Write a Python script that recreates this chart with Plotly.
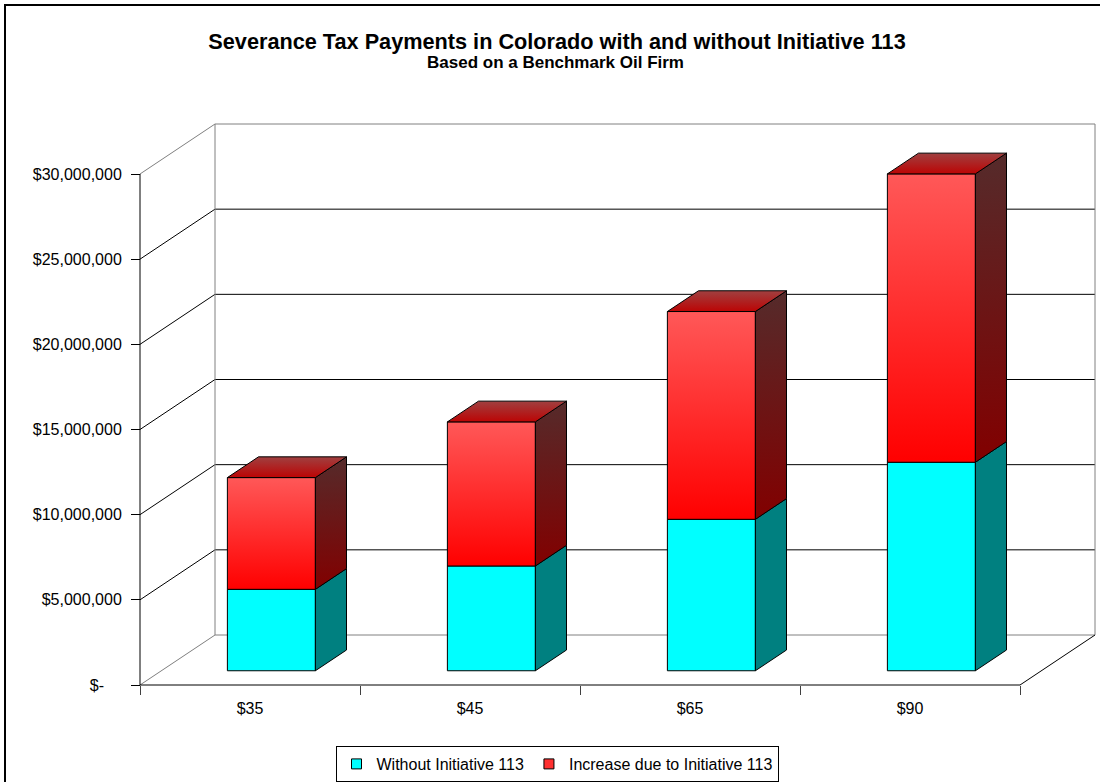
import plotly.graph_objects as go

# ---- data -------------------------------------------------------------
categories = ["$35", "$45", "$65", "$90"]
without_113 = [4.78e6, 6.15e6, 8.89e6, 12.24e6]
increase_113 = [6.56e6, 8.46e6, 12.20e6, 16.93e6]
series_names = ["Without Initiative 113", "Increase due to Initiative 113"]
tick_values = [0, 5e6, 10e6, 15e6, 20e6, 25e6, 30e6]
tick_labels = ["$-\u00a0\u00a0\u00a0\u00a0", "$5,000,000", "$10,000,000", "$15,000,000",
               "$20,000,000", "$25,000,000", "$30,000,000"]
title_text = "Severance Tax Payments in Colorado with and without Initiative 113"
subtitle_text = "Based on a Benchmark Oil Firm"

# ---- geometry of the oblique 3-D projection ---------------------------
FONT = "Liberation Sans, Arial, sans-serif"
W, H = 1100, 782
CAT_PX = 220            # pixel width of one category slot
CX0 = 250               # pixel x of the first category centre
Y0_PX = 685             # pixel y of zero on the front plane
PX_PER_DOLLAR = 511 / 30e6
DEPTH_PX = (75, 50)     # offset of the back wall from the front plane

DX = DEPTH_PX[0] / CAT_PX
DY = DEPTH_PX[1] / PX_PER_DOLLAR
x_range = [-CX0 / CAT_PX, (W - CX0) / CAT_PX]
y_range = [(Y0_PX - H) / PX_PER_DOLLAR, Y0_PX / PX_PER_DOLLAR]

BAR_HALF = 0.2          # half bar width in category units
FRONT, BACK = 0.285, 0.70   # bar depth span as a fraction of the floor depth

x_lo, x_hi = -0.5, len(categories) - 0.5
top = tick_values[-1]

fig = go.Figure()


def seg_trace(segs, color, width=1):
    xs, ys = [], []
    for (xa, ya), (xb, yb) in segs:
        xs += [xa, xb, None]
        ys += [ya, yb, None]
    return go.Scatter(x=xs, y=ys, mode="lines", line=dict(color=color, width=width),
                      hoverinfo="skip", showlegend=False)


# walls: gridlines on the side and back walls
grid = []
for v in tick_values[1:-1]:
    grid.append(((x_lo, v), (x_lo + DX, v + DY)))
    grid.append(((x_lo + DX, v + DY), (x_hi + DX, v + DY)))
fig.add_trace(seg_trace(grid, "black"))

# wall frame
frame = [
    ((x_lo + DX, DY), (x_hi + DX, DY)),
    ((x_hi + DX, DY), (x_hi + DX, top + DY)),
    ((x_hi + DX, top + DY), (x_lo + DX, top + DY)),
    ((x_lo + DX, top + DY), (x_lo + DX, DY)),
    ((x_lo, 0), (x_lo + DX, DY)),
    ((x_lo, top), (x_lo + DX, top + DY)),
]
fig.add_trace(seg_trace(frame, "#808080"))

# front edges of the floor and the value axis
front = [
    ((x_lo, 0), (x_lo, top)),
    ((x_lo, 0), (x_hi, 0)),
    ((x_hi, 0), (x_hi + DX, DY)),
]
fig.add_trace(seg_trace(front, "black"))


def face(xs, ys, fill=None, grad=None, text=None):
    kw = {}
    if grad is not None:
        kw["fillgradient"] = dict(type="vertical", colorscale=grad)
    else:
        kw["fillcolor"] = fill
    return go.Scatter(x=xs + [xs[0]], y=ys + [ys[0]], mode="lines", fill="toself",
                      line=dict(color="black", width=1), showlegend=False,
                      hoverinfo="text" if text else "skip", hoveron="fills",
                      text=text, **kw)


styles = [
    dict(front=dict(fill="#00FFFF"), side=dict(fill="#008080"), top=dict(fill="#00C0C0")),
    dict(front=dict(grad=[[0, "#FF0000"], [1, "#FF5858"]]),
         side=dict(grad=[[0, "#820000"], [1, "#552B2B"]]),
         top=dict(grad=[[0, "#BC0404"], [1, "#A04040"]])),
]

for i, cat in enumerate(categories):
    totals = [without_113[i], without_113[i] + increase_113[i]]
    bases = [0, without_113[i]]
    for s in range(2):
        y0, y1 = bases[s], totals[s]
        xl_f, xr_f = i - BAR_HALF + FRONT * DX, i + BAR_HALF + FRONT * DX
        xl_b, xr_b = i - BAR_HALF + BACK * DX, i + BAR_HALF + BACK * DX
        y0f, y1f = y0 + FRONT * DY, y1 + FRONT * DY
        y0b, y1b = y0 + BACK * DY, y1 + BACK * DY
        label = f"{cat}<br>{series_names[s]}: ${[without_113, increase_113][s][i]:,.0f}"
        st = styles[s]
        fig.add_trace(face([xl_f, xr_f, xr_f, xl_f], [y0f, y0f, y1f, y1f], text=label, **st["front"]))
        fig.add_trace(face([xr_f, xr_b, xr_b, xr_f], [y0f, y0b, y1b, y1f], **st["side"]))
        if s == 1:
            fig.add_trace(face([xl_f, xr_f, xr_b, xl_b], [y1f, y1f, y1b, y1b], **st["top"]))

# legend entries
for name, col in zip(series_names, ["#00FFFF", "#FF3030"]):
    fig.add_trace(go.Scatter(x=[None], y=[None], xaxis="x2", mode="markers", name=name,
                             marker=dict(symbol="square", size=10, color=col,
                                         line=dict(color="black", width=1))))

fig.update_layout(
    width=W, height=H,
    margin=dict(l=0, r=0, t=0, b=0),
    paper_bgcolor="white", plot_bgcolor="white",
    font=dict(family=FONT, color="black", size=16),
    title=dict(
        text=f"<b>{title_text}</b>",
        x=557 / W, xanchor="center", y=1 - 41 / H, yanchor="middle", yref="container",
        font=dict(size=21.7, color="black"),
    ),
    annotations=[dict(text=f"<b>{subtitle_text}</b>", xref="paper", yref="paper",
                      x=555 / W, y=1 - 62 / H, xanchor="center", yanchor="middle",
                      showarrow=False, font=dict(size=17, color="black"))],
    xaxis=dict(range=x_range, anchor="free", position=(H - Y0_PX) / H,
               tickvals=[x_lo + k for k in range(len(categories) + 1)],
               ticks="outside", ticklen=9, tickcolor="#404040", showticklabels=False,
               showgrid=False, zeroline=False, showline=False, fixedrange=True),
    xaxis2=dict(range=x_range, overlaying="x", anchor="free", position=(H - Y0_PX) / H,
                side="bottom", tickvals=list(range(len(categories))), ticktext=categories,
                ticks="outside", ticklen=9, tickcolor="rgba(0,0,0,0)",
                showgrid=False, zeroline=False, showline=False, fixedrange=True),
    yaxis=dict(range=y_range, anchor="free", position=140 / W,
               tickvals=tick_values, ticktext=tick_labels,
               ticks="outside", ticklen=9, tickcolor="black", ticklabelstandoff=6,
               showgrid=False, zeroline=False, showline=False, fixedrange=True),
    legend=dict(orientation="h", x=557 / W, xanchor="center", y=(H - 764) / H, yanchor="middle",
                bordercolor="black", borderwidth=1, bgcolor="white", font=dict(size=16),
                itemwidth=30),
    shapes=[dict(type="rect", xref="paper", yref="paper", x0=5 / W, x1=1.05, y0=-0.05,
                 y1=1 - 5 / H, line=dict(color="black", width=2))],
)

fig.write_html("out.html")
